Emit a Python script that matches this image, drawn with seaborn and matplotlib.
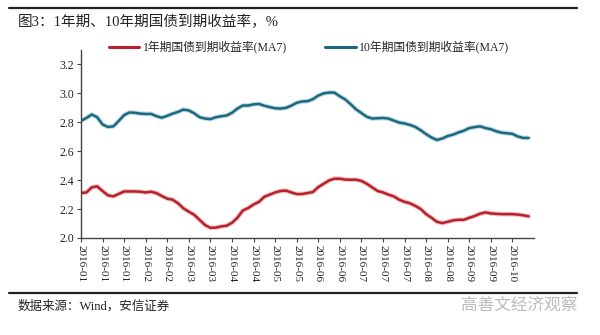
import numpy as np
import pandas as pd
import matplotlib
matplotlib.use("Agg")
import matplotlib.pyplot as plt
import matplotlib.patheffects as pe
from matplotlib.lines import Line2D
import seaborn as sns

# ---- data ----
tick_labels = ["2016-01", "2016-01", "2016-01", "2016-02", "2016-02", "2016-03", "2016-03",
               "2016-04", "2016-04", "2016-05", "2016-05", "2016-06", "2016-06", "2016-07",
               "2016-07", "2016-07", "2016-08", "2016-08", "2016-09", "2016-09", "2016-10"]

yield_1y = [2.311, 2.315, 2.350, 2.357, 2.325, 2.295, 2.288, 2.305, 2.322, 2.322,
            2.322, 2.320, 2.315, 2.320, 2.310, 2.290, 2.272, 2.265, 2.240, 2.205,
            2.182, 2.160, 2.125, 2.090, 2.070, 2.072, 2.080, 2.085, 2.105, 2.140,
            2.190, 2.207, 2.232, 2.250, 2.285, 2.300, 2.315, 2.325, 2.328, 2.315,
            2.304, 2.304, 2.311, 2.318, 2.352, 2.375, 2.398, 2.410, 2.410, 2.404,
            2.403, 2.403, 2.395, 2.375, 2.350, 2.325, 2.315, 2.300, 2.288, 2.265,
            2.250, 2.240, 2.222, 2.200, 2.165, 2.140, 2.112, 2.103, 2.112, 2.122,
            2.126, 2.126, 2.140, 2.152, 2.168, 2.177, 2.170, 2.167, 2.165, 2.165,
            2.165, 2.162, 2.157, 2.150]

yield_10y = [2.810, 2.830, 2.854, 2.835, 2.785, 2.768, 2.772, 2.810, 2.850, 2.868,
             2.866, 2.860, 2.858, 2.858, 2.842, 2.832, 2.845, 2.860, 2.872, 2.888,
             2.882, 2.862, 2.835, 2.826, 2.822, 2.835, 2.842, 2.847, 2.866, 2.895,
             2.916, 2.916, 2.924, 2.927, 2.915, 2.905, 2.897, 2.895, 2.900, 2.915,
             2.935, 2.944, 2.946, 2.960, 2.985, 3.000, 3.006, 3.005, 2.980, 2.958,
             2.925, 2.890, 2.864, 2.838, 2.826, 2.828, 2.830, 2.826, 2.812, 2.798,
             2.792, 2.782, 2.768, 2.745, 2.718, 2.695, 2.678, 2.688, 2.705, 2.715,
             2.730, 2.742, 2.760, 2.767, 2.772, 2.760, 2.752, 2.738, 2.728, 2.724,
             2.720, 2.702, 2.692, 2.692]

name_1y = "1年期国债到期收益率(MA7)"
name_10y = "10年期国债到期收益率(MA7)"
title = "图3：1年期、10年期国债到期收益率，%"
source = "数据来源：Wind，安信证券"
watermark = "高善文经济观察"

n = len(yield_1y)
df = pd.DataFrame({
    "idx": np.concatenate([np.arange(n), np.arange(n)]),
    "value": yield_1y + yield_10y,
    "series": [name_1y] * n + [name_10y] * n,
})

sns.set_theme(style="white")
fam = ["Liberation Serif", "Noto Sans CJK SC", "DejaVu Sans"]
plt.rcParams["font.family"] = fam

fig = plt.figure(figsize=(6.0, 3.35), dpi=100)
ax = fig.add_axes([81 / 600, 1 - 238 / 335, (534 - 81) / 600, (238 - 50) / 335])

palette = {name_1y: "#B5222B", name_10y: "#1D6780"}
sns.lineplot(data=df, x="idx", y="value", hue="series", palette=palette,
             linewidth=1.8, ax=ax, legend=False)
halo = {name_1y: "#F2C4C6", name_10y: "#C3DDE5"}
for line, nm in zip(ax.get_lines(), [name_1y, name_10y]):
    line.set_path_effects([pe.Stroke(linewidth=3.4, foreground=halo[nm]), pe.Normal()])

ax.set_xlim(0, 84)
ax.set_ylim(2.0, 3.3)
yt = np.arange(2.0, 3.21, 0.2)
ax.set_yticks(yt)
ax.set_yticklabels([f"{v:.1f}" for v in yt], fontsize=8.5)
ax.set_xticks(np.arange(0, 4 * len(tick_labels), 4))
ax.set_xticklabels(tick_labels, rotation=-90, fontsize=8)
ax.set_xlabel("")
ax.set_ylabel("")
for s in ["top", "right"]:
    ax.spines[s].set_visible(False)
for s in ["left", "bottom"]:
    ax.spines[s].set_color("#444444")
    ax.spines[s].set_linewidth(1.0)
ax.tick_params(axis="both", direction="out", length=3, width=0.8, color="#444444",
               pad=2, labelcolor="#222222")
ax.tick_params(axis="x", bottom=True)
ax.tick_params(axis="y", left=True)

# legend
handles = [Line2D([], [], color=palette[name_1y], lw=2.2),
           Line2D([], [], color=palette[name_10y], lw=2.2)]
fig.legend(handles, [name_1y, name_10y], loc="center", bbox_to_anchor=(0.515, 1 - 48 / 335),
           ncol=2, frameon=False, fontsize=8.5, handlelength=2.6, handletextpad=0.3,
           columnspacing=3.2)

# title, rules, source
fig.add_artist(Line2D([9 / 600, 577 / 600], [1 - 8 / 335, 1 - 8 / 335], color="#222222",
                      lw=1.6, transform=fig.transFigure))
fig.text(18 / 600, 1 - 22 / 335, title, fontsize=10.5, va="center", ha="left", color="#222222")
fig.add_artist(Line2D([9 / 600, 577 / 600], [1 - 293 / 335, 1 - 293 / 335], color="#222222",
                      lw=1.6, transform=fig.transFigure))
fig.text(18 / 600, 1 - 306 / 335, source, fontsize=9, va="center", ha="left", color="#222222")
fig.text(577 / 600, 1 - 305 / 335, watermark, fontsize=12, va="center", ha="right",
         color="#BBBBBB", family=["Noto Sans CJK SC"])

fig.savefig("out.png", dpi=100, facecolor="white")
